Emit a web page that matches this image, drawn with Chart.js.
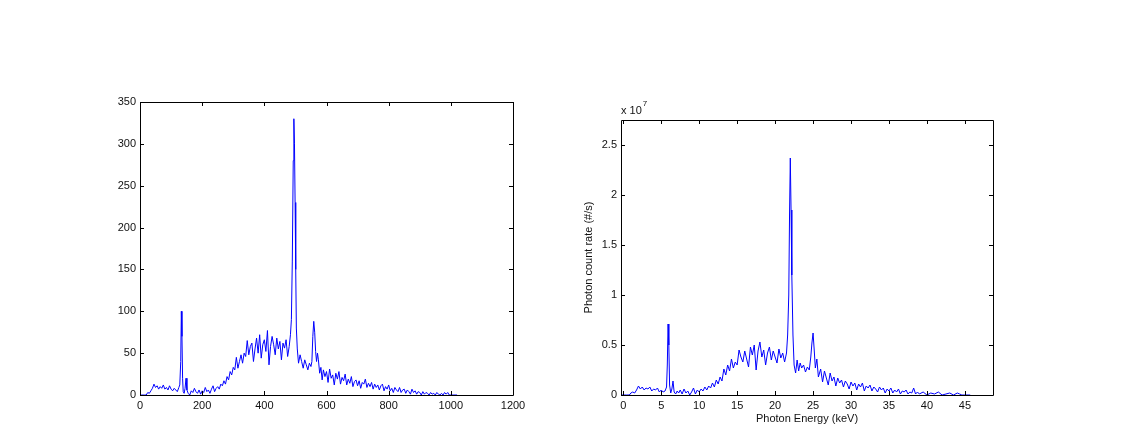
<!DOCTYPE html>
<html>
<head>
<meta charset="utf-8">
<script src="https://cdn.jsdelivr.net/npm/chart.js@4/dist/chart.umd.min.js"></script>
<style>
  html, body { margin: 0; padding: 0; background: #fff; }
  #wrap { position: relative; width: 1139px; height: 435px; overflow: hidden; }
  #c1 { position: absolute; left: 0; top: 0; }
  #c2 { position: absolute; left: 570px; top: 0; }
</style>
</head>
<body>
<div id="wrap">
  <canvas id="c1" width="570" height="435"></canvas>
  <canvas id="c2" width="569" height="435"></canvas>
</div>
<script>
// ---------- Left panel: counts vs channel ----------
const leftChannel = [0,5,10,15,20,25,30,35,40,45,50,55,60,65,70,75,80,85,90,95,100,105,110,115,120,125,128,131,133,135,137,139,142,145,148,151,155,160,165,170,175,180,185,190,195,200,205,210,215,220,225,230,235,240,245,250,255,260,265,270,275,280,285,290,295,300,305,310,315,320,325,330,335,340,345,350,355,360,365,370,375,380,385,390,395,400,405,410,415,420,425,430,435,440,445,450,455,460,465,470,475,480,484,487,490,493,495,497,499,501,503,506,510,515,520,525,530,535,540,545,550,553,556,559,562,565,568,571,574,578,582,586,590,595,600,605,610,615,620,625,630,635,640,645,650,655,660,665,670,675,680,685,690,695,700,705,710,715,720,725,730,735,740,745,750,755,760,765,770,775,780,785,790,795,800,805,810,815,820,825,830,835,840,845,850,855,860,865,870,875,880,885,890,895,900,905,910,915,920,925,930,935,940,945,950,955,960,965,970,975,980,985,990,995,1000,1010,1020];
const leftCounts = [0,0,0,0,0,
  3,2,5,8,13,9,11,7,10,8,12,7,9,6,11,7,5,8,6,4,9,
  12,40,100,70,20,4,2,8,20,6,2,0,
  5,3,8,4,2,6,1,5,3,9,4,6,2,7,11,4,8,10,7,13,11,17,13,22,18,28,24,33,30,45,32,40,48,38,50,46,
  65,48,58,62,40,55,68,50,72,44,60,66,52,77,36,58,70,60,48,68,55,64,42,62,56,66,46,58,
  72,90,160,280,330,300,230,150,80,55,38,48,40,32,42,36,30,38,34,40,70,88,75,52,40,50,42,
  26,33,18,30,
  22,28,15,31,20,24,12,26,19,28,13,21,17,25,12,19,14,22,10,16,18,11,17,8,15,13,19,9,14,10,15,7,13,9,12,6,11,13,5,10,7,12,5,8,3,9,6,4,9,3,6,7,2,6,4,1,7,3,5,1,4,3,0,4,1,3,2,0,3,1,2,0,3,1,0,2,0,3,1,3,0,
  0,0,0];
const leftXTicks = [0,200,400,600,800,1000,1200];
const leftYTicks = [0,50,100,150,200,250,300,350];

// ---------- Right panel: count rate (x 10^7) vs energy ----------
const rightEnergy = [-0.3,0.4,0.8,1.0,1.25,1.5,1.75,2.0,2.25,2.5,2.75,3.0,3.25,3.5,3.75,4.0,4.25,4.5,4.75,5.0,5.25,5.5,5.7,5.8,5.9,6.0,6.1,6.25,6.4,6.55,6.7,6.9,7.1,7.3,7.5,7.75,8.0,8.25,8.5,8.75,9.0,9.25,9.5,9.75,10.0,10.25,10.5,10.75,11.0,11.25,11.5,11.75,12.0,12.25,12.5,12.75,13.0,13.25,13.5,13.75,14.0,14.25,14.5,14.75,15.0,15.25,15.5,15.75,16.0,16.25,16.5,16.75,17.0,17.25,17.5,17.75,18.0,18.25,18.5,18.75,19.0,19.25,19.5,19.75,20.0,20.25,20.5,20.75,21.0,21.25,21.5,21.65,21.8,21.9,22.0,22.1,22.2,22.35,22.5,22.7,22.9,23.1,23.3,23.5,23.75,24.0,24.25,24.5,24.7,24.85,25.0,25.15,25.3,25.5,25.7,26.0,26.25,26.5,26.75,27.0,27.25,27.5,27.75,28.0,28.25,28.5,28.75,29.0,29.25,29.5,29.75,30.0,30.25,30.5,30.75,31.0,31.25,31.5,31.75,32.0,32.25,32.5,32.75,33.0,33.25,33.5,33.75,34.0,34.25,34.5,34.75,35.0,35.25,35.5,35.75,36.0,36.25,36.5,36.75,37.0,37.25,37.5,37.75,38.0,38.25,38.5,38.75,39.0,39.5,40.0,40.5,41.0,41.5,42.0,42.5,43.0,43.5,44.0,44.3,44.6,45.0,45.7];
const rightRate = [0,0,0,0.02,0.03,0.02,0.05,0.09,0.06,0.08,0.05,0.07,0.06,0.08,0.04,0.06,0.05,0.07,0.03,0.05,0.03,0.04,
  0.08,0.3,0.71,0.5,0.1,0.02,0.06,0.14,0.03,0.01,0.04,0.02,0.05,0.01,0.06,0.02,0.04,0.0,0.03,0.07,0.01,0.05,0.03,0.06,0.04,0.08,0.05,0.09,0.07,0.12,0.08,0.15,0.11,0.18,0.14,0.26,0.2,0.3,0.24,0.36,0.27,0.33,
  0.3,0.45,0.38,0.33,0.44,0.36,0.28,0.48,0.4,0.5,0.25,0.44,0.53,0.38,0.45,0.3,0.42,0.48,0.35,0.44,0.38,0.32,0.46,0.37,0.42,0.33,
  0.42,0.6,1.0,1.8,2.37,1.85,1.2,0.6,0.3,0.22,0.35,0.24,0.32,0.27,0.3,0.23,0.28,0.25,0.38,0.52,0.62,0.45,0.27,0.36,0.18,
  0.26,0.13,0.24,0.17,0.1,0.22,0.14,0.18,0.09,0.17,0.12,0.15,0.08,0.14,0.11,0.06,0.13,0.09,0.12,0.05,0.11,0.08,0.12,0.04,0.09,0.07,0.1,0.04,0.08,0.06,0.03,0.08,0.05,0.07,0.02,0.06,0.04,0.07,0.02,0.05,0.03,0.06,0.01,0.04,0.03,0.05,0.01,0.03,0.02,0.07,0.01,0.03,
  0.01,0.03,0.0,0.02,0.01,0.03,0.0,0.01,0.02,0.0,0.02,0.01,0.0,
  0,0];
const rightXTicks = [0,5,10,15,20,25,30,35,40,45];
const rightYTicks = [0,0.5,1,1.5,2,2.5];
const rightYLabel = 'Photon count rate (#/s)';
const rightXLabel = 'Photon Energy (keV)';
const rightExponent = '7';

const FONT = 'Liberation Sans, Arial, sans-serif';
const TXT = '#111';

// plugin: MATLAB-like box with inward ticks on all four sides
const boxPlugin = {
  id: 'matBox',
  afterDatasetsDraw(chart, args, opts) {
    const ctx = chart.ctx;
    const a = chart.chartArea;
    const xs = chart.scales.x, ys = chart.scales.y;
    const L = 4;
    ctx.save();
    ctx.strokeStyle = '#000';
    ctx.lineWidth = 1;
    ctx.beginPath();
    ctx.rect(a.left + 0.5, a.top + 0.5, a.right - a.left, a.bottom - a.top);
    ctx.stroke();
    ctx.beginPath();
    xs.ticks.forEach(t => {
      const px = Math.round(xs.getPixelForValue(t.value)) + 0.5;
      ctx.moveTo(px, a.bottom); ctx.lineTo(px, a.bottom - L);
      ctx.moveTo(px, a.top); ctx.lineTo(px, a.top + L);
    });
    ys.ticks.forEach(t => {
      const py = Math.round(ys.getPixelForValue(t.value)) + 0.5;
      ctx.moveTo(a.left, py); ctx.lineTo(a.left + L, py);
      ctx.moveTo(a.right, py); ctx.lineTo(a.right - L, py);
    });
    ctx.stroke();
    if (opts && opts.exponent) {
      ctx.fillStyle = TXT;
      ctx.textBaseline = 'middle';
      ctx.textAlign = 'left';
      ctx.font = '11px ' + FONT;
      const base = 'x 10';
      const x0 = a.left;
      ctx.fillText(base, x0, 111);
      const w = ctx.measureText(base).width;
      ctx.font = '8px ' + FONT;
      ctx.fillText(opts.exponent, x0 + w + 1, 104);
    }
    ctx.restore();
  }
};

function makeChart(canvas, xs, ys, cfg) {
  return new Chart(canvas, {
    type: 'line',
    data: {
      datasets: [{
        data: xs.map((x, i) => ({ x: x, y: ys[i] })),
        borderColor: '#0000ff',
        borderWidth: 1,
        pointRadius: 0,
        tension: 0,
        fill: false
      }]
    },
    options: {
      responsive: false,
      animation: false,
      events: [],
      layout: { padding: cfg.padding },
      plugins: {
        legend: { display: false },
        tooltip: { enabled: false },
        matBox: { exponent: cfg.exponent || null }
      },
      scales: {
        x: {
          type: 'linear',
          min: cfg.xMin, max: cfg.xMax,
          grid: { display: false, drawTicks: false },
          border: { display: false },
          afterBuildTicks: s => { s.ticks = cfg.xTicks.map(v => ({ value: v })); },
          afterFit: s => { s.height = cfg.xHeight; },
          ticks: {
            padding: 4, color: TXT, maxRotation: 0, autoSkip: false,
            font: { family: FONT, size: 11 },
            callback: v => String(v)
          },
          title: cfg.xTitle ? {
            display: true, text: cfg.xTitle, color: TXT,
            font: { family: FONT, size: 11 },
            padding: { top: 0, bottom: 9 }
          } : { display: false }
        },
        y: {
          type: 'linear',
          min: cfg.yMin, max: cfg.yMax,
          grid: { display: false, drawTicks: false },
          border: { display: false },
          afterBuildTicks: s => { s.ticks = cfg.yTicks.map(v => ({ value: v })); },
          afterFit: s => { s.width = cfg.yWidth; },
          ticks: {
            padding: 4, color: TXT, autoSkip: false,
            font: { family: FONT, size: 11 },
            callback: v => String(v)
          },
          title: cfg.yTitle ? {
            display: true, text: cfg.yTitle, color: TXT,
            font: { family: FONT, size: 11 },
            padding: { top: 12, bottom: 0 }
          } : { display: false }
        }
      }
    },
    plugins: [boxPlugin]
  });
}

makeChart(document.getElementById('c1'), leftChannel, leftCounts, {
  padding: { left: 0, top: 102, right: 57, bottom: 0 },
  xMin: 0, xMax: 1200, yMin: 0, yMax: 350,
  xTicks: leftXTicks, yTicks: leftYTicks,
  xHeight: 40, yWidth: 140
});

makeChart(document.getElementById('c2'), rightEnergy, rightRate, {
  padding: { left: 0, top: 120, right: 146, bottom: 0 },
  xMin: -0.3, xMax: 48.7, yMin: 0, yMax: 2.75,
  xTicks: rightXTicks, yTicks: rightYTicks,
  xHeight: 40, yWidth: 51,
  xTitle: rightXLabel, yTitle: rightYLabel,
  exponent: rightExponent
});
</script>
</body>
</html>
